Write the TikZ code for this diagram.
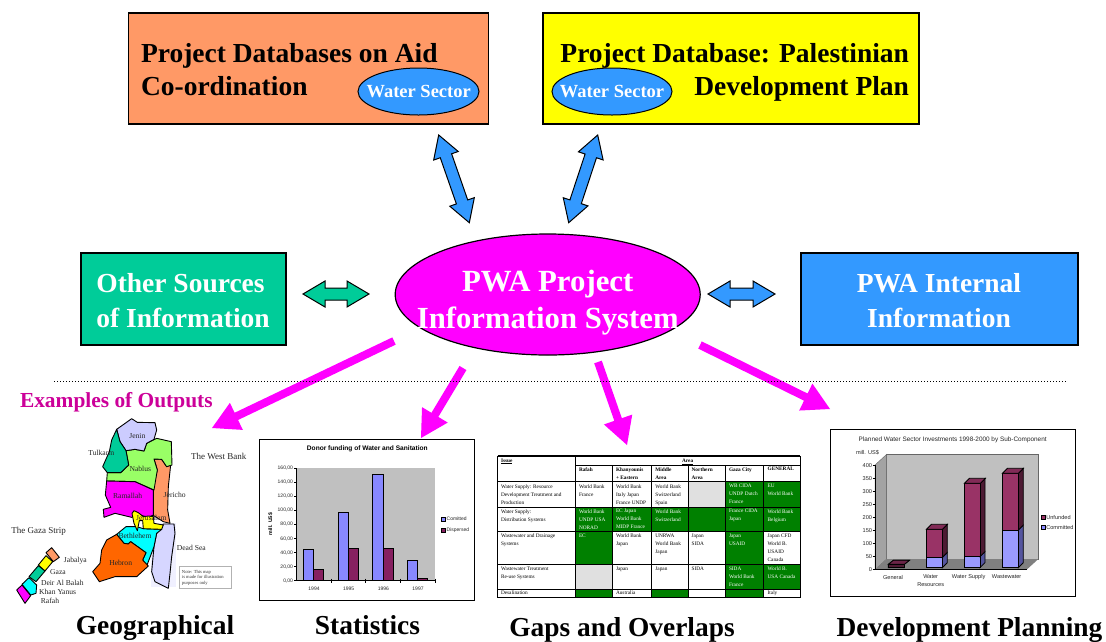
\documentclass[tikz,border=0pt]{standalone}
\usepackage{fontspec}
\setmainfont{Liberation Serif}
\setsansfont{Liberation Sans}
\usetikzlibrary{calc}
\newcount\nn
\newcommand{\fsz}[1]{\fontsize{#1}{#1}\selectfont}
\newcommand{\fsl}[2]{\fontsize{#1}{#2}\selectfont}
\newcommand{\lab}[3][]{\global\advance\nn by 1 \node[txt,#1] (n\the\nn) at (#2) {#3};}
\newcommand{\dblarrow}[3]{\draw[#3] (#1) -- ($(#1)!22pt!(#2)!13pt!90:(#2)$) -- ($(#1)!22pt!(#2)!6pt!90:(#2)$) -- ($(#2)!22pt!(#1)!-6pt!90:(#1)$) -- ($(#2)!22pt!(#1)!-13pt!90:(#1)$) -- (#2) -- ($(#2)!22pt!(#1)!13pt!90:(#1)$) -- ($(#2)!22pt!(#1)!6pt!90:(#1)$) -- ($(#1)!22pt!(#2)!-6pt!90:(#2)$) -- ($(#1)!22pt!(#2)!-13pt!90:(#2)$) -- cycle;}
\newcommand{\sglarrow}[2]{\fill[fill=mag] ($(#1)!4pt!90:(#2)$) -- ($(#2)!27pt!(#1)!-4pt!90:(#1)$) -- ($(#2)!27pt!(#1)!-15pt!90:(#1)$) -- (#2) -- ($(#2)!27pt!(#1)!15pt!90:(#1)$) -- ($(#2)!27pt!(#1)!4pt!90:(#1)$) -- ($(#1)!-4pt!90:(#2)$) -- cycle;}
\definecolor{mag}{HTML}{FF00FF}
\definecolor{yel}{HTML}{FFFF00}
\definecolor{cyn}{HTML}{00FFFF}
\definecolor{orangebox}{HTML}{FF9966}
\definecolor{tealbox}{HTML}{00CC99}
\definecolor{bluebox}{HTML}{3399FF}
\definecolor{lime}{HTML}{99FF66}
\definecolor{lilac}{HTML}{CCCCFF}
\definecolor{hebron}{HTML}{FF6600}
\definecolor{titlemag}{HTML}{CC0099}
\definecolor{tgreen}{HTML}{008000}
\definecolor{tgray}{HTML}{E0E0E0}
\definecolor{wine}{HTML}{862060}
\definecolor{wine2}{HTML}{993366}
\definecolor{wined}{HTML}{4D1A33}
\definecolor{peri}{HTML}{8888FF}
\definecolor{perid}{HTML}{55559F}
\definecolor{wall}{HTML}{C0C0C0}
\tikzset{
  txt/.style={inner sep=0pt,outer sep=0pt},
  box/.style={draw=black,line width=1.2pt,inner sep=0pt},
  big/.style={txt,font=\bfseries\fsz{27.5},text=black},
  bigw/.style={txt,font=\bfseries\fsz{27.5},text=white,align=center},
  outt/.style={txt,font=\bfseries\fsz{27.4},text=black,anchor=base},
  bluearr/.style={draw=black,line width=1pt,fill=bluebox,line join=miter},
  greenarr/.style={draw=black,line width=1pt,fill=tealbox,line join=miter},
  region/.style={draw=black,line width=0.9pt,line join=round},
  maplab/.style={txt,font=\fsz{7.6},text=black!85},
  tcell/.style={txt,anchor=north west,align=left,font=\fsl{5.3}{8},text=black},
  tcellw/.style={tcell,text=white},
  thead/.style={tcell,font=\bfseries\fsl{5.3}{8}},
  chartsm/.style={txt,font=\sffamily\fsz{5},text=black!85},
  frame/.style={draw=black,line width=1pt,fill=white},
  bar/.style={draw=black,line width=0.8pt},
}
\begin{document}
\begin{tikzpicture}[x=1pt,y=-1pt]
\useasboundingbox (0,0) rectangle (1106,641);
\fill[white] (0,0) rectangle (1106,641);

% top boxes
\node[box,fill=orangebox,minimum width=360pt,minimum height=111pt] (db1) at (308.5,68.5) {};
\node[box,fill=yel,minimum width=376pt,minimum height=111pt] (db2) at (731,68.5) {};
\lab[big,anchor=base west]{141,62.3}{Project Databases on Aid}
\lab[big,anchor=base west]{141,95}{Co-ordination}
\lab[big,anchor=base east]{909,62.3}{Project Database: Palestinian}
\lab[big,anchor=base east]{909,95}{Development Plan}
\draw[bluearr] (418.5,91.5) ellipse (60.5 and 23.5);
\draw[bluearr] (612,91.5) ellipse (60 and 23.5);
\lab[txt,anchor=base,font=\bfseries\fsz{18.5},text=white]{418.7,97.7}{Water Sector}
\lab[txt,anchor=base,font=\bfseries\fsz{18.5},text=white]{612,97.7}{Water Sector}

% middle row
\node[box,fill=tealbox,minimum width=205pt,minimum height=92pt] (other) at (183.5,299) {};
\node[box,fill=bluebox,minimum width=277pt,minimum height=92pt] (internal) at (939.5,299) {};
\lab[bigw]{180.5,283.5}{Other Sources}
\lab[bigw]{183,317.5}{of Information}
\lab[bigw]{939,283.5}{PWA Internal}
\lab[bigw]{939,317.5}{Information}
\draw[draw=black,line width=1.2pt,fill=mag] (547.7,294.5) ellipse (152.5 and 60.5);
\coordinate (pis) at (547.7,294.5);
\lab[txt,anchor=base,font=\bfseries\fsz{30.8},text=white]{547.7,291.7}{PWA Project}
\lab[txt,anchor=base,font=\bfseries\fsz{30.7},text=white]{547.7,328.3}{Information System}

% connectors (block arrows)
\coordinate (a1t) at (438.7,135); \coordinate (a1b) at (469.3,222.7);
\coordinate (a2t) at (597.7,135); \coordinate (a2b) at (568.7,222.7);
\coordinate (a3l) at (303,294);   \coordinate (a3r) at (369,294);
\coordinate (a4l) at (708,294);   \coordinate (a4r) at (775,294);
\dblarrow{a1t}{a1b}{bluearr}
\dblarrow{a2t}{a2b}{bluearr}
\dblarrow{a3l}{a3r}{greenarr}
\dblarrow{a4l}{a4r}{bluearr}

\coordinate (m1a) at (394,341); \coordinate (m1b) at (212,428);
\coordinate (m2a) at (463,368); \coordinate (m2b) at (421,438);
\coordinate (m3a) at (598,362); \coordinate (m3b) at (627,445);
\coordinate (m4a) at (700,345); \coordinate (m4b) at (830,409);
\sglarrow{m1a}{m1b}
\sglarrow{m2a}{m2b}
\sglarrow{m3a}{m3b}
\sglarrow{m4a}{m4b}

% dotted line
\draw[line width=0.8pt,dash pattern=on 1pt off 2pt] (54,381) -- (1066,381);

\lab[txt,anchor=west,font=\bfseries\fsz{21.4},text=titlemag]{20,402}{Examples of Outputs}

% === map ===
\begin{scope}[shift={(0,400)},x=0.33333pt,y=-0.33333pt]
\fill[white!70!lilac] (453,370) rectangle (528,560);
\draw[region,fill=lilac!80!white] (490,372) -- (522,372) -- (525,400) -- (515,470) -- (510,520) -- (505,565) -- (465,545) -- (455,515) -- (462,440) -- (470,400) -- cycle;
\draw[region,fill=orangebox] (462,177) -- (485,178) -- (500,200) -- (512,195) -- (505,260) -- (503,330) -- (510,370) -- (490,365) -- (458,345) -- (458,270) -- (472,210) -- cycle;
\draw[region,fill=lime] (378,152) -- (405,148) -- (432,153) -- (440,130) -- (470,115) -- (514,125) -- (516,195) -- (500,200) -- (485,178) -- (462,177) -- (472,210) -- (462,270) -- (405,245) -- (320,243) -- (322,218) -- (362,218) -- (386,195) -- cycle;
\draw[region,fill=lilac] (350,88) -- (395,56) -- (412,67) -- (465,68) -- (470,90) -- (462,118) -- (440,130) -- (432,153) -- (405,148) -- (378,152) -- (360,125) -- cycle;
\draw[region,fill=tealbox] (350,88) -- (360,125) -- (378,152) -- (386,195) -- (362,218) -- (322,218) -- (308,200) -- (328,155) -- (335,120) -- cycle;
\draw[region,fill=mag] (320,243) -- (405,245) -- (460,270) -- (460,345) -- (445,352) -- (420,345) -- (395,352) -- (345,340) -- (312,352) -- (310,328) -- (332,322) -- (316,285) -- cycle;
\draw[region,fill=cyn] (378,380) -- (410,380) -- (430,386) -- (485,388) -- (470,400) -- (462,440) -- (440,498) -- (428,480) -- (438,458) -- (392,425) -- (385,432) -- (372,430) -- (350,403) -- cycle;
\draw[region,fill=yel] (396,340) -- (402,332) -- (415,338) -- (430,350) -- (445,348) -- (460,350) -- (462,370) -- (490,375) -- (485,388) -- (430,386) -- (428,362) -- (418,362) -- (412,392) -- (402,370) -- cycle;
\draw[region,fill=hebron] (350,403) -- (372,430) -- (385,432) -- (392,425) -- (438,458) -- (428,480) -- (445,498) -- (410,530) -- (345,530) -- (298,545) -- (278,515) -- (300,490) -- (305,450) -- (320,420) -- cycle;
% Gaza strip
\draw[region,fill=orangebox] (155,443) -- (178,472) -- (160,485) -- (138,458) -- cycle;
\draw[region,fill=yel] (138,467) -- (158,485) -- (135,513) -- (115,495) -- cycle;
\draw[region,fill=tealbox] (115,497) -- (135,513) -- (108,545) -- (87,530) -- cycle;
\draw[region,fill=cyn] (87,533) -- (110,555) -- (108,580) -- (92,585) -- (66,553) -- cycle;
\draw[region,fill=mag] (66,555) -- (92,587) -- (75,610) -- (50,570) -- cycle;
\draw[draw=black!30,line width=0.8pt,fill=white] (537,500) rectangle (693,565);
\lab[maplab]{412,107}{Jenin}
\lab[maplab]{304,158}{Tulkarm}
\lab[maplab]{421,208}{Nablus}
\lab[maplab]{383,287}{Ramallah}
\lab[maplab]{524,284}{Jericho}
\lab[maplab]{454,353}{Jerusalem}
\lab[maplab]{405,407}{Bethlehem}
\lab[maplab]{362,488}{Hebron}
\lab[maplab]{574,443}{Dead Sea}
\lab[maplab,font=\fsz{9}]{656,168}{The West Bank}
\lab[maplab,font=\fsz{9}]{116,393}{The Gaza Strip}
\lab[maplab]{226,482}{Jabalya}
\lab[maplab]{174,515}{Gaza}
\lab[maplab]{187,550}{Deir Al Balah}
\lab[maplab]{173,577}{Khan Yanus}
\lab[maplab]{150,602}{Rafah}
\lab[txt,anchor=north west,align=left,font=\fsl{4.6}{5.6},text=black!80]{546,510}{Note: This map\\is made for illustration\\purposes only}
\end{scope}

% === bar chart ===
\begin{scope}[shift={(255,430)},x=0.33333pt,y=-0.33333pt]
\draw[frame] (13,28) rectangle (658,510);
\fill[wall] (125,115) rectangle (540,452);
\draw[black,line width=0.7pt] (125,115) -- (125,452) -- (540,452);
\foreach \v/\lb in {0/{0,00},1/{20,00},2/{40,00},3/{60,00},4/{80,00},5/{100,00},6/{120,00},7/{140,00},8/{160,00}}{
  \draw[black,line width=0.6pt] (118,{452-42.1*\v}) -- (125,{452-42.1*\v});
  \lab[chartsm,anchor=east]{114,{452-42.1*\v}}{\lb}
}
\foreach \x in {228,332,436,540}{\draw[black,line width=0.6pt] (\x,446) -- (\x,458);}
\draw[bar,fill=peri] (145,358) rectangle (176,452);
\draw[bar,fill=wine] (176,418) rectangle (206,452);
\draw[bar,fill=peri] (250,247) rectangle (281,452);
\draw[bar,fill=wine] (281,356) rectangle (310,452);
\draw[bar,fill=peri] (353,132) rectangle (384,452);
\draw[bar,fill=wine] (384,356) rectangle (414,452);
\draw[bar,fill=peri] (457,392) rectangle (488,452);
\draw[bar,fill=wine] (488,446) rectangle (518,452);
\lab[chartsm]{177,475}{1994}
\lab[chartsm]{281,475}{1995}
\lab[chartsm]{385,475}{1996}
\lab[chartsm]{489,475}{1997}
\lab[chartsm,font=\bfseries\sffamily\fsz{6.6},text=black]{337,56}{Donor funding of Water and Sanitation}
\lab[chartsm,font=\bfseries\sffamily\fsz{5.2},text=black,rotate=90]{46,282}{mill. US\$}
\draw[black,fill=peri,line width=0.6pt] (559,263) rectangle (570,275);
\draw[black,fill=wine,line width=0.6pt] (559,294) rectangle (570,306);
\lab[chartsm,anchor=west]{575,267}{Comitted}
\lab[chartsm,anchor=west]{575,300}{Dispersed}
\end{scope}

% === table ===
\begin{scope}[shift={(495,450)},x=0.33333pt,y=-0.33333pt]
\fill[white] (8,18) rectangle (916,443);
\fill[tgreen] (692,95) rectangle (916,172);
\fill[tgreen] (242,172) rectangle (916,245);
\fill[tgreen] (242,245) rectangle (353,343);
\fill[tgreen] (692,245) rectangle (806,343);
\fill[tgreen] (692,343) rectangle (916,417);
\fill[tgreen] (242,417) rectangle (353,443);
\fill[tgreen] (470,417) rectangle (580,443);
\fill[tgreen] (692,417) rectangle (806,443);
\fill[tgray] (580,95) rectangle (692,172);
\fill[tgray] (242,343) rectangle (353,417);
\draw[black,line width=1.2pt] (8,18) -- (916,18);
\draw[black,line width=0.6pt] (242,45) -- (916,45);
\draw[black,line width=1pt] (8,95) -- (916,95);
\draw[black,line width=0.7pt] (8,172) -- (916,172) (8,245) -- (916,245) (8,343) -- (916,343) (8,417) -- (916,417);
\draw[black,line width=1.2pt] (8,443) -- (916,443);
\draw[black,line width=0.6pt] (8,18) -- (8,443) (242,18) -- (242,443) (916,18) -- (916,443);
\foreach \x in {353,470,580,692,806}{\draw[black,line width=0.6pt] (\x,45) -- (\x,443);}
\lab[thead]{18,26}{\underline{Issue}}
\lab[thead,anchor=north]{578,28}{\underline{Area}}
\lab[thead]{252,52}{Rafah}
\lab[thead]{363,52}{Khanyounis\\+ Eastern}
\lab[thead]{481,52}{Middle\\Area}
\lab[thead]{590,52}{Northern\\Area}
\lab[thead]{702,52}{Gaza City}
\lab[thead]{818,52}{GENERAL}
\lab[tcell]{18,103}{Water Supply:  Resource\\Development Treatment and\\Production}
\lab[tcell]{252,103}{World Bank\\France}
\lab[tcell]{363,103}{World Bank\\Italy Japan\\France UNDP}
\lab[tcell]{481,103}{World Bank\\Switzerland\\Spain}
\lab[tcellw]{702,103}{WB CIDA\\UNDP Dutch\\France}
\lab[tcellw]{818,103}{EU\\World Bank}
\lab[tcell]{18,178}{Water Supply:\\Distribution Systems}
\lab[tcellw]{252,178}{World Bank\\UNDP USA\\NORAD}
\lab[tcellw]{363,178}{EC Japan\\World Bank\\MIDP France}
\lab[tcellw]{481,178}{World Bank\\Switzerland}
\lab[tcellw]{702,178}{France CIDA\\Japan}
\lab[tcellw]{818,178}{World Bank\\Belgium}
\lab[tcell]{18,252}{Wastewater and Drainage\\Systems}
\lab[tcellw]{252,252}{EC}
\lab[tcell]{363,252}{World Bank\\Japan}
\lab[tcell]{481,252}{UNRWA\\World Bank\\Japan}
\lab[tcell]{590,252}{Japan\\SIDA}
\lab[tcellw]{702,252}{Japan\\USAID}
\lab[tcell]{818,252}{Japan CFD\\World B.\\USAID\\Canada}
\lab[tcell]{18,350}{Wastewater Treatment\\Re-use Systems}
\lab[tcell]{363,350}{Japan}
\lab[tcell]{481,350}{Japan}
\lab[tcell]{590,350}{SIDA}
\lab[tcellw]{702,350}{SIDA\\World Bank\\France}
\lab[tcellw]{818,350}{World B.\\USA Canada}
\lab[tcell]{18,421}{Desalination}
\lab[tcell]{363,421}{Australia}
\lab[tcell]{818,421}{Italy}
\end{scope}

% === 3D chart ===
\begin{scope}[shift={(825,425)},x=0.33333pt,y=-0.33333pt]
\draw[frame] (15,14) rectangle (750,513);
\fill[wall,draw=black!60,line width=0.4pt] (185,88) rectangle (640,402);
\fill[wall!85!black,draw=black!60,line width=0.4pt] (150,120) -- (185,88) -- (185,402) -- (150,434) -- cycle;
\fill[black!50] (150,434) -- (185,402) -- (640,402) -- (605,434) -- cycle;
\draw[black,line width=0.7pt] (150,120) -- (150,434) -- (605,434);
\foreach \v/\lb in {0/0,1/50,2/100,3/150,4/200,5/250,6/300,7/350,8/400}{
  \draw[black,line width=0.6pt] (143,{434-39.2*\v}) -- (150,{434-39.2*\v});
  \lab[chartsm,anchor=east,font=\sffamily\fsz{5.6}]{141,{434-39.2*\v}}{\lb}
}
\draw[bar,fill=wined] (190,418) -- (205,406) -- (253,406) -- (238,418) -- (238,428) -- (190,428) -- cycle;
\draw[bar,fill=wine2!70!black] (190,418) -- (205,406) -- (253,406) -- (238,418) -- cycle;
\draw[bar,fill=wined] (190,418) rectangle (238,428);
\newcommand{\barthree}[6]{%
  \draw[bar,fill=#6] (#2,#4) -- (#2+15,#4-15) -- (#2+15,#3-15) -- (#2,#3) -- cycle;
  \draw[bar,fill=#5] (#1,#3) rectangle (#2,#4);
}
\newcommand{\bartop}[3]{\draw[bar,fill=#3] (#1,#2) -- (#1+15,#2-15) -- (#1+63,#2-15) -- (#1+48,#2) -- cycle;}
\barthree{304}{352}{397}{428}{peri!85!white}{perid}
\barthree{304}{352}{313}{397}{wine2}{wined}
\bartop{304}{313}{wine2!85!black}
\barthree{418}{465}{395}{428}{peri!85!white}{perid}
\barthree{418}{465}{175}{395}{wine2}{wined}
\bartop{418}{175}{wine2!85!black}
\barthree{532}{580}{315}{428}{peri!85!white}{perid}
\barthree{532}{580}{145}{315}{wine2}{wined}
\bartop{532}{145}{wine2!85!black}
\lab[chartsm,font=\sffamily\fsz{6.4},text=black!85]{383,44}{Planned Water Sector Investments 1998-2000 by Sub-Component}
\lab[chartsm,font=\sffamily\fsz{5.6},anchor=west]{93,82}{mill. US\$}
\lab[chartsm,font=\sffamily\fsz{5.6}]{204,456}{General}
\lab[chartsm,font=\sffamily\fsz{5.6}]{317,456}{Water}
\lab[chartsm,font=\sffamily\fsz{5.6}]{317,478}{Resources}
\lab[chartsm,font=\sffamily\fsz{5.6}]{431,456}{Water Supply}
\lab[chartsm,font=\sffamily\fsz{5.6}]{545,456}{Wastewater}
\draw[black,fill=wine2,line width=0.6pt] (649,271) rectangle (661,283);
\draw[black,fill=peri,line width=0.6pt] (649,301) rectangle (661,313);
\lab[chartsm,font=\sffamily\fsz{5.6},anchor=west]{664,276}{Unfunded}
\lab[chartsm,font=\sffamily\fsz{5.6},anchor=west]{664,306}{Committed}
\end{scope}

% output captions
\lab[outt]{155,634}{Geographical}
\lab[outt]{367.5,634}{Statistics}
\lab[outt]{622,636}{Gaps and Overlaps}
\lab[outt]{969.5,636}{Development Planning}
\end{tikzpicture}
\end{document}
